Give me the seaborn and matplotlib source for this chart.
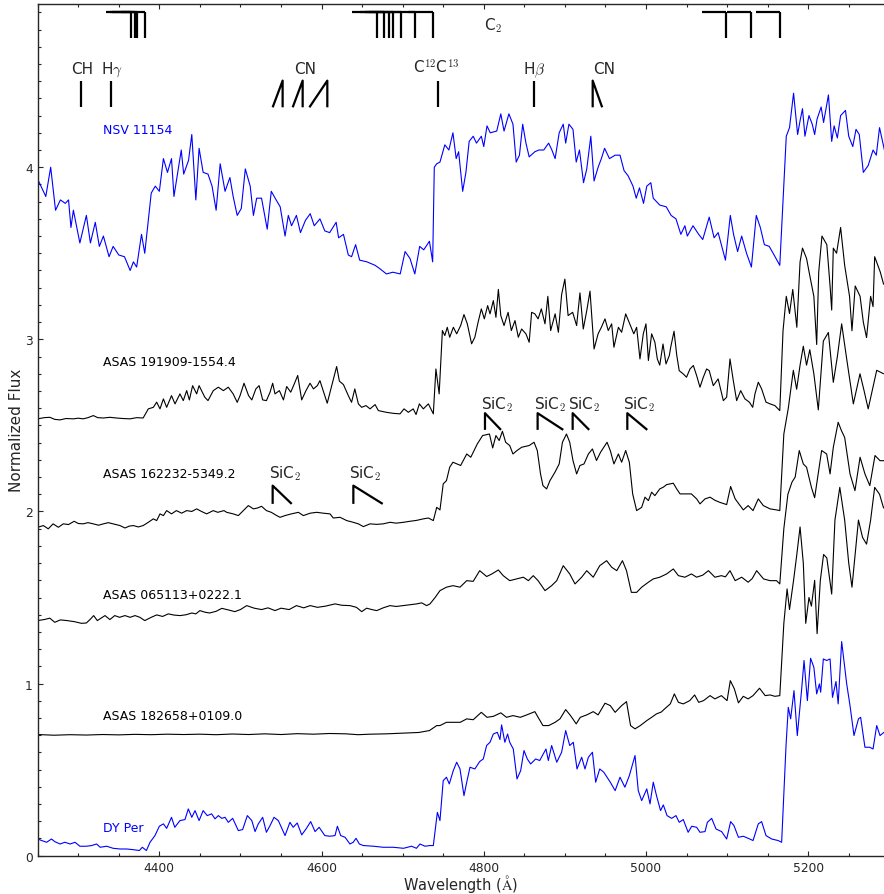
import matplotlib
matplotlib.use("Agg")
import matplotlib.pyplot as plt
import seaborn as sns
import pandas as pd
from matplotlib.ticker import MultipleLocator

# ---------------- data: (wavelength [A], normalized flux) ----------------
NSV_11154 = [(4250,3.93),(4256,3.87),(4260,3.83),(4266,4.00),(4272,3.75),(4278,3.81),(4284,3.79),(4288,3.81),(4291,3.65),(4294,3.75),(4302,3.56),(4310,3.72),(4315,3.56),(4321,3.68),(4326,3.54),(4331,3.60),(4338,3.48),(4343,3.54),(4350,3.49),(4357,3.48),(4364,3.40),(4368,3.45),(4372,3.42),(4378,3.61),(4382,3.50),(4390,3.85),(4395,3.89),(4400,3.86),(4405,4.05),(4410,3.97),(4415,4.05),(4418,3.83),(4422,3.95),(4427,4.10),(4430,3.96),(4436,4.04),(4440,4.19),(4445,3.81),(4449,4.11),(4454,3.97),(4460,3.96),(4465,3.89),(4470,3.75),(4475,4.02),(4481,3.86),(4487,3.94),(4491,3.83),(4496,3.72),(4501,3.76),(4506,3.99),(4512,3.89),(4516,3.72),(4520,3.82),(4526,3.82),(4533,3.64),(4538,3.86),(4544,3.81),(4549,3.77),(4555,3.60),(4559,3.72),(4563,3.66),(4569,3.72),(4574,3.62),(4580,3.69),(4586,3.73),(4591,3.66),(4598,3.70),(4604,3.63),(4610,3.62),(4618,3.68),(4621,3.59),(4627,3.61),(4633,3.49),(4637,3.48),(4642,3.55),(4647,3.46),(4656,3.45),(4666,3.43),(4672,3.41),(4680,3.38),(4688,3.39),(4697,3.38),(4703,3.51),(4709,3.47),(4715,3.38),(4721,3.54),(4726,3.52),(4733,3.57),(4737,3.45),(4739,4.00),(4742,4.02),(4746,4.03),(4752,4.13),(4757,4.10),(4762,4.20),(4766,4.05),(4769,4.09),(4774,3.86),(4778,3.97),(4782,4.15),(4787,4.18),(4791,4.14),(4797,4.18),(4800,4.12),(4804,4.24),(4808,4.20),(4816,4.21),(4821,4.31),(4825,4.21),(4831,4.31),(4836,4.25),(4840,4.03),(4844,4.07),(4848,4.25),(4852,4.14),(4856,4.06),(4863,4.09),(4868,4.10),(4874,4.10),(4880,4.14),(4884,4.10),(4888,4.05),(4893,4.20),(4898,4.25),(4901,4.14),(4905,4.25),(4910,4.22),(4914,4.03),(4918,4.10),(4923,3.91),(4927,3.99),(4932,4.18),(4936,3.92),(4941,4.00),(4945,4.05),(4949,4.11),(4955,4.05),(4962,4.07),(4968,4.07),(4973,3.98),(4978,3.95),(4984,3.89),(4988,3.82),(4992,3.88),(4997,3.79),(5001,3.89),(5006,3.91),(5009,3.82),(5013,3.80),(5017,3.78),(5025,3.77),(5031,3.72),(5037,3.70),(5043,3.61),(5048,3.66),(5051,3.60),(5058,3.66),(5065,3.61),(5070,3.58),(5078,3.71),(5084,3.59),(5089,3.62),(5098,3.46),(5104,3.72),(5108,3.61),(5113,3.51),(5118,3.60),(5124,3.50),(5130,3.42),(5136,3.72),(5141,3.65),(5146,3.55),(5152,3.54),(5158,3.49),(5165,3.43),(5173,4.18),(5177,4.23),(5182,4.43),(5187,4.19),(5190,4.27),(5193,4.34),(5196,4.18),(5201,4.30),(5205,4.25),(5208,4.19),(5211,4.28),(5216,4.35),(5219,4.26),(5225,4.42),(5229,4.15),(5232,4.24),(5236,4.17),(5240,4.30),(5246,4.33),(5250,4.18),(5255,4.12),(5259,4.22),(5263,4.19),(5268,3.97),(5274,4.01),(5280,4.10),(5284,4.07),(5288,4.23),(5294,4.10)]

ASAS_191909 = [(4250,2.538),(4258,2.545),(4265,2.547),(4271,2.535),(4277.5,2.532),(4285,2.54),(4294,2.538),(4300,2.542),(4306,2.538),(4312,2.545),(4318.6,2.557),(4324,2.545),(4331,2.543),(4339,2.547),(4347,2.543),(4355,2.54),(4363.8,2.538),(4372,2.545),(4380,2.543),(4386.4,2.596),(4392.6,2.605),(4396.7,2.635),(4400.8,2.596),(4405,2.654),(4409,2.605),(4415,2.673),(4419.3,2.625),(4425.4,2.683),(4429.5,2.644),(4433.7,2.702),(4437,2.648),(4441,2.731),(4446,2.683),(4449,2.731),(4456,2.664),(4460,2.644),(4466.5,2.702),(4472.7,2.722),(4479,2.702),(4485,2.722),(4491,2.683),(4496,2.634),(4499.5,2.673),(4504.4,2.745),(4510,2.673),(4514,2.648),(4519,2.712),(4523,2.731),(4527.4,2.648),(4532,2.644),(4536.5,2.693),(4539.7,2.745),(4542.6,2.683),(4548,2.702),(4553,2.648),(4557,2.726),(4562,2.693),(4566,2.737),(4570.6,2.79),(4575.5,2.648),(4580.8,2.702),(4585.8,2.745),(4590,2.712),(4594.8,2.731),(4598,2.76),(4602,2.702),(4607,2.629),(4612.5,2.731),(4618.6,2.842),(4622,2.757),(4627,2.737),(4633,2.673),(4637,2.634),(4641,2.712),(4645.4,2.625),(4649.5,2.605),(4654.8,2.615),(4659.8,2.596),(4666,2.621),(4670,2.586),(4680,2.576),(4688.5,2.57),(4696.7,2.567),(4701.7,2.596),(4707,2.576),(4713,2.596),(4716.5,2.563),(4720.6,2.625),(4725.5,2.596),(4731.7,2.625),(4737.8,2.567),(4741,2.828),(4745,2.683),(4749,3.051),(4752,3.022),(4755,3.07),(4758,3.012),(4762.5,3.07),(4766.6,3.032),(4771.5,3.08),(4775.6,3.144),(4779.7,3.09),(4785,2.974),(4789,3.012),(4793,3.099),(4797,3.177),(4800.7,3.119),(4804.8,3.196),(4807.7,3.148),(4811.8,3.225),(4815,3.128),(4818,3.29),(4821,3.138),(4825,3.08),(4830,3.157),(4834,3.051),(4838.5,3.109),(4842.6,3.012),(4846.7,3.06),(4852,3.032),(4856,2.983),(4859,3.157),(4863,3.148),(4867,3.119),(4871,3.177),(4875.5,3.09),(4879,3.25),(4882.5,3.051),(4888,3.148),(4892,3.041),(4896,3.26),(4900,3.35),(4904,3.138),(4909.6,3.157),(4914.5,3.08),(4918.6,3.27),(4922.7,3.06),(4927,3.167),(4931,3.28),(4936,2.944),(4941,3.032),(4945,3.07),(4949.5,3.119),(4953.5,3.051),(4957.7,3.09),(4960.5,2.954),(4966,3.07),(4970,3.041),(4975,3.148),(4980,3.09),(4985,3.032),(4988.5,3.07),(4992.6,2.886),(4996.7,3.032),(5000,3.09),(5003,2.877),(5007,3.032),(5011,2.983),(5014,2.886),(5017,2.85),(5021,2.973),(5024.7,2.857),(5028.8,2.906),(5030.5,2.954),(5034.6,3.047),(5038,2.906),(5041,2.818),(5046,2.799),(5050,2.78),(5054.3,2.828),(5058.4,2.848),(5062.5,2.789),(5066.6,2.722),(5070.7,2.78),(5074.8,2.828),(5078,2.818),(5083,2.731),(5089,2.77),(5095.4,2.644),(5099.5,2.664),(5103.6,2.886),(5107.7,2.76),(5111.8,2.644),(5116.8,2.702),(5122,2.654),(5127.5,2.635),(5131.6,2.605),(5134.4,2.683),(5138.5,2.751),(5142.6,2.712),(5148,2.635),(5153,2.625),(5159,2.615),(5165,2.586),(5169,3.05),(5173,3.25),(5177,3.15),(5181,3.29),(5186,3.07),(5190,3.45),(5193,3.53),(5198,3.47),(5202,3.37),(5207,3.25),(5210.5,2.97),(5213,3.39),(5217,3.60),(5223,3.55),(5227,3.31),(5229,3.17),(5231,3.53),(5235,3.50),(5240,3.65),(5245,3.43),(5251,3.25),(5254,3.05),(5258,3.31),(5264,3.25),(5268,3.1),(5272,3.01),(5277,3.25),(5280,3.19),(5282,3.48),(5289,3.39),(5293,3.32)]

ASAS_162232 = [(4250,1.908),(4257,1.918),(4263,1.899),(4269,1.928),(4275.4,1.908),(4281.6,1.928),(4288,1.924),(4295,1.943),(4300,1.93),(4306,1.928),(4312,1.935),(4318.6,1.928),(4325,1.92),(4331,1.928),(4337,1.935),(4343,1.928),(4351.5,1.918),(4357.6,1.904),(4363,1.915),(4368,1.918),(4374,1.91),(4380,1.918),(4386.4,1.937),(4392.6,1.957),(4396.7,1.947),(4400.8,1.986),(4405,1.976),(4409,2.005),(4415,1.986),(4421,2.005),(4427.5,1.99),(4433.7,2.005),(4440,2.0),(4446,2.015),(4452,2.0),(4458.3,1.986),(4466.5,2.005),(4472,1.995),(4479.7,2.005),(4483,1.995),(4491,1.986),(4497.4,1.976),(4503.6,2.005),(4509.7,2.034),(4516,2.015),(4521,2.02),(4526,2.03),(4532,2.005),(4538,1.995),(4544.7,1.976),(4548.8,1.966),(4555,1.976),(4562,1.985),(4571.4,1.995),(4577.6,1.976),(4586,1.99),(4594,1.995),(4602,1.99),(4610.4,1.986),(4614.5,1.962),(4622.8,1.966),(4631,1.947),(4639,1.937),(4645.4,1.928),(4651.5,1.912),(4659.8,1.928),(4668,1.925),(4676,1.928),(4684.4,1.937),(4692,1.932),(4701,1.937),(4709,1.943),(4717,1.948),(4725.5,1.957),(4731.7,1.962),(4737.8,1.947),(4742,2.024),(4746,2.009),(4750,2.16),(4754,2.179),(4758,2.257),(4762,2.286),(4771.5,2.267),(4779,2.334),(4784,2.315),(4792,2.392),(4798.6,2.441),(4807,2.45),(4811,2.369),(4815,2.441),(4819,2.412),(4823,2.466),(4827,2.402),(4832,2.383),(4836,2.334),(4841,2.354),(4846.7,2.373),(4856,2.383),(4862,2.402),(4866,2.354),(4870,2.218),(4873,2.15),(4877.5,2.131),(4881.6,2.179),(4887.8,2.228),(4893,2.276),(4897,2.402),(4902,2.45),(4906,2.402),(4910,2.296),(4914.5,2.218),(4918.6,2.267),(4923.6,2.276),(4929,2.334),(4934,2.363),(4939,2.296),(4944,2.344),(4948,2.373),(4952,2.402),(4956,2.354),(4960.5,2.276),(4966,2.334),(4970,2.286),(4975,2.354),(4979.5,2.286),(4983.6,2.102),(4988.5,2.005),(4994.7,2.024),(4998.8,2.083),(5003,2.063),(5007,2.112),(5011,2.092),(5017,2.131),(5021.4,2.141),(5025.5,2.156),(5033.7,2.164),(5037.9,2.131),(5042,2.102),(5050,2.102),(5056,2.102),(5062.5,2.073),(5066.6,2.044),(5072.8,2.073),(5079,2.083),(5085,2.065),(5091,2.053),(5099.5,2.04),(5104.4,2.145),(5110,2.073),(5116,2.034),(5120,2.009),(5126,2.034),(5132,2.005),(5138.5,2.073),(5144.7,2.034),(5153,2.015),(5161,2.009),(5165,2.005),(5170,2.45),(5175.5,2.60),(5181.7,2.82),(5185.8,2.71),(5190,2.85),(5194,2.96),(5198,2.85),(5202,2.94),(5207,2.80),(5212.5,2.59),(5218.7,2.99),(5224.9,3.04),(5231,2.75),(5236,2.90),(5241.3,3.09),(5247.5,2.886),(5255.7,2.625),(5263.9,2.80),(5269,2.70),(5274,2.596),(5284.5,2.82),(5293,2.80)]

ASAS_065113 = [(4250,1.366),(4258,1.372),(4265,1.38),(4271,1.356),(4278,1.37),(4286,1.366),(4295,1.36),(4304,1.35),(4310,1.352),(4314.5,1.372),(4319,1.395),(4323.5,1.366),(4333,1.395),(4339,1.372),(4345,1.395),(4351,1.385),(4357.6,1.395),(4364,1.385),(4370,1.395),(4376,1.385),(4382,1.366),(4390,1.385),(4396.7,1.399),(4404,1.39),(4411,1.405),(4418,1.398),(4425.5,1.395),(4433,1.40),(4440,1.41),(4445,1.405),(4450,1.424),(4456,1.415),(4462,1.41),(4470,1.42),(4477,1.437),(4485,1.428),(4493,1.418),(4500,1.43),(4507.7,1.453),(4517,1.438),(4526,1.43),(4534,1.44),(4542.6,1.424),(4550,1.438),(4560,1.43),(4569,1.453),(4578,1.44),(4586,1.453),(4595,1.443),(4605,1.45),(4616.6,1.463),(4625,1.455),(4635,1.453),(4643,1.443),(4649.5,1.418),(4655.6,1.438),(4662,1.43),(4668,1.424),(4676,1.44),(4684.4,1.453),(4692,1.448),(4701,1.453),(4709,1.458),(4717.3,1.463),(4723.5,1.469),(4729.6,1.453),(4733.7,1.463),(4740,1.50),(4746,1.54),(4754,1.56),(4762,1.569),(4770.7,1.56),(4779,1.598),(4787,1.594),(4795,1.656),(4803.6,1.622),(4810,1.637),(4818,1.66),(4824,1.627),(4832,1.598),(4840.6,1.608),(4848.8,1.618),(4855,1.598),(4861,1.627),(4867,1.598),(4875.5,1.54),(4883.7,1.569),(4890,1.598),(4898,1.685),(4906,1.637),(4912.5,1.579),(4920.7,1.618),(4927,1.656),(4935,1.618),(4943,1.685),(4951.5,1.714),(4957.7,1.676),(4964,1.656),(4971,1.714),(4976,1.656),(4982,1.53),(4988.5,1.53),(4994.7,1.56),(5003,1.589),(5009,1.608),(5017,1.618),(5025.5,1.637),(5033.7,1.666),(5040,1.627),(5048,1.618),(5056,1.637),(5062.5,1.618),(5070,1.63),(5077,1.656),(5085,1.618),(5093,1.627),(5098,1.62),(5103.6,1.656),(5110,1.598),(5118,1.618),(5126,1.589),(5131,1.61),(5136.5,1.656),(5145,1.608),(5153,1.598),(5161,1.598),(5165,1.579),(5170,1.9),(5175,2.1),(5180,2.17),(5184,2.20),(5189,2.354),(5194,2.276),(5198,2.257),(5204,2.14),(5208,2.08),(5216.6,2.354),(5222.8,2.334),(5227,2.218),(5231,2.373),(5237,2.518),(5241,2.47),(5245,2.43),(5251.6,2.218),(5257.7,2.121),(5264,2.315),(5270,2.218),(5276,2.15),(5282.4,2.325),(5288.6,2.295),(5293.5,2.295)]

ASAS_182658 = [(4250,0.704),(4270,0.700),(4290,0.703),(4310,0.701),(4330,0.704),(4350,0.702),(4370,0.705),(4390,0.703),(4410,0.706),(4430,0.704),(4450,0.706),(4470,0.703),(4490,0.707),(4510,0.704),(4530,0.708),(4550,0.704),(4570,0.709),(4590,0.706),(4610,0.710),(4630,0.708),(4645,0.703),(4660,0.706),(4680,0.708),(4700,0.712),(4720,0.716),(4733,0.727),(4742,0.756),(4746,0.756),(4754,0.775),(4771,0.775),(4779,0.795),(4787,0.79),(4797,0.833),(4804,0.804),(4812,0.81),(4821,0.83),(4828,0.804),(4836,0.814),(4845,0.804),(4853,0.818),(4863,0.837),(4867,0.804),(4873,0.756),(4880,0.756),(4888,0.775),(4894,0.795),(4901,0.849),(4907,0.814),(4914,0.766),(4919,0.804),(4927,0.818),(4935,0.837),(4941,0.818),(4949.5,0.886),(4956,0.872),(4962,0.833),(4970,0.872),(4976,0.895),(4981,0.756),(4986.5,0.737),(4993,0.756),(5001,0.785),(5007,0.804),(5013,0.824),(5019,0.835),(5023,0.853),(5030,0.882),(5035,0.94),(5040,0.891),(5046,0.882),(5054,0.901),(5060,0.934),(5065,0.891),(5071,0.901),(5079,0.93),(5085,0.911),(5093,0.93),(5100,0.901),(5104,1.017),(5109,0.969),(5114,0.888),(5120,0.926),(5126,0.911),(5132,0.93),(5140,0.973),(5147,0.93),(5153,0.934),(5159,0.926),(5165,0.93),(5170,1.35),(5174,1.55),(5177,1.43),(5182,1.6),(5186,1.75),(5190,1.91),(5194,1.7),(5197,1.35),(5201,1.5),(5204,1.45),(5208,1.6),(5211,1.29),(5215,1.6),(5219,1.75),(5223,1.73),(5229,1.52),(5233,1.95),(5239,2.14),(5245,1.95),(5250,1.7),(5254,1.56),(5262,1.95),(5267,1.85),(5272,1.81),(5277,1.95),(5282,2.14),(5288,2.10),(5293,2.02)]

DY_PER = [(4250,0.097),(4255,0.088),(4261,0.078),(4267,0.097),(4271,0.082),(4277.5,0.068),(4283.6,0.078),(4290,0.068),(4296,0.078),(4302,0.055),(4310,0.055),(4316.5,0.059),(4322.7,0.068),(4327,0.049),(4335,0.055),(4343,0.043),(4351.5,0.039),(4359.7,0.039),(4368,0.035),(4375.3,0.03),(4379,0.049),(4384,0.03),(4388.5,0.078),(4394.6,0.117),(4400,0.171),(4405,0.185),(4409,0.159),(4415,0.223),(4419,0.165),(4425.4,0.204),(4431.6,0.21),(4435.7,0.272),(4440,0.223),(4444,0.262),(4449,0.204),(4454,0.262),(4459,0.233),(4464.5,0.243),(4468.6,0.214),(4472.7,0.233),(4477,0.217),(4481,0.223),(4485,0.194),(4490.4,0.217),(4497.4,0.146),(4502.7,0.152),(4508.5,0.233),(4514,0.204),(4518,0.14),(4522,0.185),(4527.4,0.223),(4532,0.136),(4536.5,0.175),(4541.4,0.223),(4546.7,0.204),(4555,0.117),(4561,0.194),(4565,0.165),(4570,0.19),(4575.5,0.121),(4580.8,0.155),(4586.6,0.198),(4592,0.14),(4597,0.165),(4604,0.117),(4610,0.113),(4616.6,0.117),(4619.5,0.171),(4623.6,0.117),(4629,0.107),(4635,0.068),(4639,0.078),(4642.5,0.101),(4646.6,0.068),(4651.5,0.059),(4664,0.055),(4676,0.049),(4688.5,0.049),(4701,0.043),(4711,0.055),(4717,0.043),(4721.4,0.068),(4727.6,0.055),(4733.7,0.059),(4737.8,0.059),(4742.8,0.252),(4746,0.204),(4750,0.436),(4754,0.456),(4757.5,0.417),(4762.4,0.494),(4766.6,0.543),(4770.7,0.504),(4775.6,0.349),(4779,0.427),(4783,0.514),(4789,0.504),(4795,0.547),(4799.4,0.562),(4803.5,0.64),(4807.7,0.659),(4811.8,0.707),(4816.7,0.717),(4820,0.675),(4822,0.76),(4826,0.659),(4829.4,0.707),(4832,0.659),(4836.4,0.62),(4841,0.446),(4845.5,0.494),(4849.6,0.611),(4853.7,0.562),(4857.8,0.533),(4864,0.562),(4869,0.553),(4876.7,0.62),(4879.6,0.553),(4883.7,0.64),(4890,0.543),(4896,0.601),(4901,0.727),(4906,0.64),(4910.4,0.659),(4915,0.504),(4920.7,0.572),(4924.8,0.504),(4929,0.572),(4934,0.601),(4938,0.427),(4943,0.504),(4948,0.485),(4956,0.427),(4962,0.378),(4968,0.456),(4974,0.398),(4979.5,0.465),(4986.5,0.582),(4990.5,0.378),(4994.7,0.32),(5001,0.388),(5005,0.301),(5009,0.427),(5013,0.349),(5018,0.262),(5021.4,0.295),(5026,0.233),(5031.7,0.217),(5037,0.233),(5041,0.194),(5046,0.21),(5052,0.136),(5056.4,0.171),(5062.5,0.165),(5066.6,0.136),(5072.8,0.14),(5075.7,0.194),(5081,0.217),(5086.4,0.155),(5093.3,0.14),(5099.5,0.097),(5104.4,0.198),(5108.5,0.175),(5114,0.107),(5120,0.113),(5128,0.097),(5132,0.088),(5138.5,0.185),(5142.6,0.198),(5148,0.117),(5155,0.097),(5163,0.088),(5167.3,0.078),(5172.7,0.64),(5175.5,0.862),(5178.4,0.795),(5182.5,0.959),(5186.6,0.698),(5192,0.969),(5194.9,1.134),(5199,0.901),(5203,1.147),(5207,1.095),(5210.5,0.94),(5213.8,0.998),(5215.4,0.95),(5218.7,1.143),(5222.8,1.134),(5227,1.143),(5230,0.92),(5234.3,1.012),(5237,0.882),(5241.3,1.244),(5247.5,0.998),(5251.6,0.872),(5256.5,0.698),(5262,0.795),(5264.7,0.804),(5270,0.63),(5276,0.63),(5280,0.62),(5284.5,0.756),(5288.6,0.698),(5293.5,0.717)]

STAR_NAMES = ["NSV 11154", "ASAS 191909-1554.4", "ASAS 162232-5349.2",
              "ASAS 065113+0222.1", "ASAS 182658+0109.0", "DY Per"]
STAR_COLORS = ["blue", "black", "black", "black", "black", "blue"]
LABEL_Y = [4.199, 2.848, 2.199, 1.496, 0.795, 0.146]

# feature identifications
C2_HEADS = [4364.5, 4369.5, 4372.0, 4382.5, 4668, 4677, 4683, 4688, 4698, 4715, 4737, 5098.5, 5130, 5165.5]
LINE_FEATURES = [4303.4, 4340.4, 4744.0, 4862.3]          # CH, Hgamma, C12C13, Hbeta
CN_VIOLET = [(4539.7, 4552.0), (4564.4, 4576.7), (4585.0, 4607.1)]
CN_RED = [(4934.3, 4946.0)]
SIC2_LOW = [(4539.7, 4563.2), (4639.2, 4675.4)]
SIC2_HIGH = [(4801.5, 4821.2), (4866.4, 4898.0), (4909.6, 4930.0), (4977.0, 5001.6)]
TOP_LABELS = [("CH", 4305), (r"H$\gamma$", 4341), ("CN", 4579.6),
              (r"C$^{12}$C$^{13}$", 4742), (r"H$\beta$", 4862), ("CN", 4948.6)]
SIC2_LABEL_X_LOW = [4555, 4653.6]
SIC2_LABEL_X_HIGH = [4816, 4881.6, 4923.6, 4991.8]

# ---------------- figure ----------------
sns.set_style("ticks")
plt.rcParams["font.family"] = ["DejaVu Sans"]
plt.rcParams["mathtext.fontset"] = "cm"
plt.rcParams["xtick.direction"] = "in"
plt.rcParams["ytick.direction"] = "in"

fig = plt.figure(figsize=(8.84, 8.95), dpi=100)
ax = fig.add_axes([37.7 / 884, 1 - 856.7 / 895, (884 - 37.7) / 884, (856.7 - 4.7) / 895])

spectra = [NSV_11154, ASAS_191909, ASAS_162232, ASAS_065113, ASAS_182658, DY_PER]
frames = []
for name, spec in zip(STAR_NAMES, spectra):
    w, f = zip(*spec)
    frames.append(pd.DataFrame({"wave": w, "flux": f, "star": name}))
df = pd.concat(frames, ignore_index=True)

for name, color in zip(STAR_NAMES, STAR_COLORS):
    sns.lineplot(data=df[df["star"] == name], x="wave", y="flux", ax=ax,
                 color=color, lw=0.8, estimator=None, sort=False)

for name, color, ly in zip(STAR_NAMES, STAR_COLORS, LABEL_Y):
    ax.text(4330, ly, name, color=color, fontsize=9, ha="left", va="baseline")

mk = dict(color="black", lw=1.6, solid_capstyle="butt")
top_y, bot_y = 4.904, 4.749
for h in C2_HEADS:
    ax.plot([h - 30, h], [top_y, top_y], **mk)
    ax.plot([h, h], [top_y, bot_y], **mk)
ax.text(4811, 4.80, r"C$_2$", fontsize=11, ha="center", va="baseline")

y1, y0 = 4.503, 4.348
for x in LINE_FEATURES:
    ax.plot([x, x], [y0, y1], **mk)
for a, b in CN_VIOLET:
    ax.plot([a, b, b], [y0, y1, y0], **mk)
for a, b in CN_RED:
    ax.plot([a, a, b], [y0, y1, y0], **mk)
for txt, x in TOP_LABELS:
    ax.text(x, 4.548, txt, fontsize=11, ha="center", va="baseline")

for a, b in SIC2_LOW:
    ax.plot([a, a, b], [2.044, 2.15, 2.044], **mk)
for x in SIC2_LABEL_X_LOW:
    ax.text(x, 2.199, r"SiC$_2$", fontsize=11, ha="center", va="baseline")
for a, b in SIC2_HIGH:
    ax.plot([a, a, b], [2.474, 2.571, 2.474], **mk)
for x in SIC2_LABEL_X_HIGH:
    ax.text(x, 2.596, r"SiC$_2$", fontsize=11, ha="center", va="baseline")

ax.set_xlim(4250, 5293.5)
ax.set_ylim(0, 4.95)
ax.xaxis.set_major_locator(MultipleLocator(200))
ax.xaxis.set_minor_locator(MultipleLocator(50))
ax.yaxis.set_major_locator(MultipleLocator(1))
ax.yaxis.set_minor_locator(MultipleLocator(0.1))
ax.tick_params(which="both", top=True, right=False, direction="in", width=0.8, labelsize=8.8)
ax.tick_params(which="major", length=3.6)
ax.tick_params(which="minor", length=2.0)
ax.spines["right"].set_visible(False)
for s in ["left", "top", "bottom"]:
    ax.spines[s].set_linewidth(1.0)
ax.set_xlabel(r"Wavelength ($\mathrm{\AA}$)", fontsize=10.5)
ax.xaxis.set_label_coords(0.5, -0.0195)
ax.set_ylabel("Normalized Flux", fontsize=11, labelpad=1)

fig.savefig("out.png", dpi=100)
